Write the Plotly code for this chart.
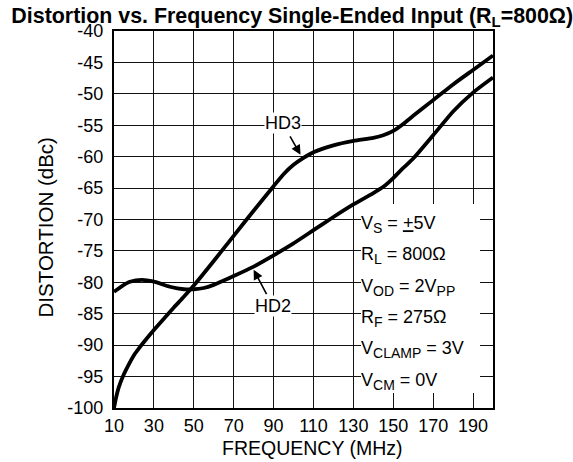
import plotly.graph_objects as go

# ---- data ----
hd3_freq = [10, 11, 12.5, 15, 17.5, 20, 22.5, 25, 30, 35, 40, 45, 50, 60, 70, 80, 90, 95, 100,
            105, 110, 120, 130, 140, 145, 150, 155, 160, 170, 180, 190, 200]
hd3_dbc = [-100, -98.4, -96.6, -94.6, -93.0, -91.6, -90.5, -89.5, -87.6, -85.8, -84.0, -82.3,
           -80.5, -76.6, -72.6, -68.6, -64.7, -62.8, -61.3, -60.2, -59.3, -58.2, -57.5, -57.0,
           -56.6, -55.9, -54.8, -53.5, -51.0, -48.5, -46.2, -43.9]

hd2_freq = [10, 14, 18, 24, 30, 38, 45, 50, 55, 60, 65, 70, 80, 90, 100, 110, 120, 130, 140,
            145, 150, 155, 160, 170, 180, 190, 200]
hd2_dbc = [-81.5, -80.6, -79.9, -79.6, -79.9, -80.7, -81.1, -81.1, -80.9, -80.4, -79.7, -79.0,
           -77.5, -75.7, -73.8, -71.7, -69.6, -67.6, -65.8, -64.8, -63.4, -61.8, -60.3, -56.6,
           -52.8, -49.8, -47.4]

x_ticks = [10, 30, 50, 70, 90, 110, 130, 150, 170, 190]
y_ticks = [-100, -95, -90, -85, -80, -75, -70, -65, -60, -55, -50, -45, -40]
x_ticktext = [str(v) for v in x_ticks]
y_ticktext = [str(v) for v in y_ticks]

SUB = '<sub><span style="font-size:14px">{}</span></sub>'
cond_lines = [
    "V" + SUB.format("S") + " = <u>+</u>5V",
    "R" + SUB.format("L") + " = 800Ω",
    "V" + SUB.format("OD") + " = 2V" + SUB.format("PP"),
    "R" + SUB.format("F") + " = 275Ω",
    "V" + SUB.format("CLAMP") + " = 3V",
    "V" + SUB.format("CM") + " = 0V",
]
cond_top = [-67.5, -72.5, -77.5, -82.5, -87.5, -92.5]

FONT = "Liberation Sans, Arial, Helvetica, sans-serif"

fig = go.Figure()
for xs, ys in [(hd3_freq, hd3_dbc), (hd2_freq, hd2_dbc)]:
    fig.add_trace(go.Scatter(x=xs, y=ys, mode="lines",
                             line=dict(color="black", width=3.8, shape="spline", smoothing=0.6),
                             showlegend=False, hoverinfo="skip"))

# conditions block: each line sits in its own white box that hides the grid
for txt, yt in zip(cond_lines, cond_top):
    fig.add_annotation(x=134, y=yt, xref="x", yref="y", text=txt, showarrow=False,
                       xanchor="left", yanchor="top", align="left", valign="bottom",
                       width=119, height=32, bgcolor="white", borderpad=0, borderwidth=0,
                       font=dict(family=FONT, size=18, color="black"))

# curve labels with arrows
fig.add_annotation(x=103.5, y=-59.7, ax=94.5, ay=-54.7, xref="x", yref="y", axref="x", ayref="y",
                   text="HD3", showarrow=True, arrowhead=2, arrowsize=1.2, arrowwidth=1.6,
                   startstandoff=3, arrowcolor="black", bgcolor="white", borderpad=0,
                   font=dict(family=FONT, size=18, color="black"))
fig.add_annotation(x=80.0, y=-78.0, ax=89.5, ay=-83.7, xref="x", yref="y", axref="x", ayref="y",
                   text="HD2", showarrow=True, arrowhead=2, arrowsize=1.2, arrowwidth=1.6,
                   startstandoff=1, arrowcolor="black", bgcolor="white", borderpad=0,
                   font=dict(family=FONT, size=18, color="black"))

# axis titles
fig.add_annotation(x=0.525, y=-0.106, xref="paper", yref="paper", text="FREQUENCY (MHz)",
                   showarrow=False, xanchor="center", yanchor="middle",
                   font=dict(family=FONT, size=19.5, color="black"))
fig.add_annotation(x=-0.182, y=0.479, xref="paper", yref="paper", text="DISTORTION (dBc)",
                   showarrow=False, xanchor="center", yanchor="middle", textangle=-90,
                   font=dict(family=FONT, size=20.5, color="black"))

fig.update_layout(
    width=573, height=462,
    margin=dict(l=114, r=80, t=31, b=54, autoexpand=False),
    paper_bgcolor="white", plot_bgcolor="white",
    font=dict(family=FONT, size=18, color="black"),
    title=dict(text="<b>Distortion vs. Frequency Single-Ended Input (R<sub>L</sub>=800Ω)</b>",
               x=0.51, xanchor="center", y=0.967, yanchor="middle",
               font=dict(family=FONT, size=21.4, color="black")),
)
fig.update_xaxes(range=[10, 200], tickmode="array", tickvals=x_ticks, ticktext=x_ticktext,
                 ticks="", showgrid=True, gridcolor="#111111", gridwidth=1.4, zeroline=False,
                 showline=True, linecolor="black", linewidth=2.2, mirror=True,
                 automargin=False, ticklabelstandoff=0)
fig.update_yaxes(range=[-100, -40], tickmode="array", tickvals=y_ticks, ticktext=y_ticktext,
                 ticks="", showgrid=True, gridcolor="#111111", gridwidth=1.4, zeroline=False,
                 showline=True, linecolor="black", linewidth=2.2, mirror=True,
                 automargin=False, ticklabelstandoff=5)

# remove the browser's default 8px page margin so the figure sits at the window origin
fig.write_html("out.html", config={"displayModeBar": False},
               post_script="document.body.style.margin='0px';")
